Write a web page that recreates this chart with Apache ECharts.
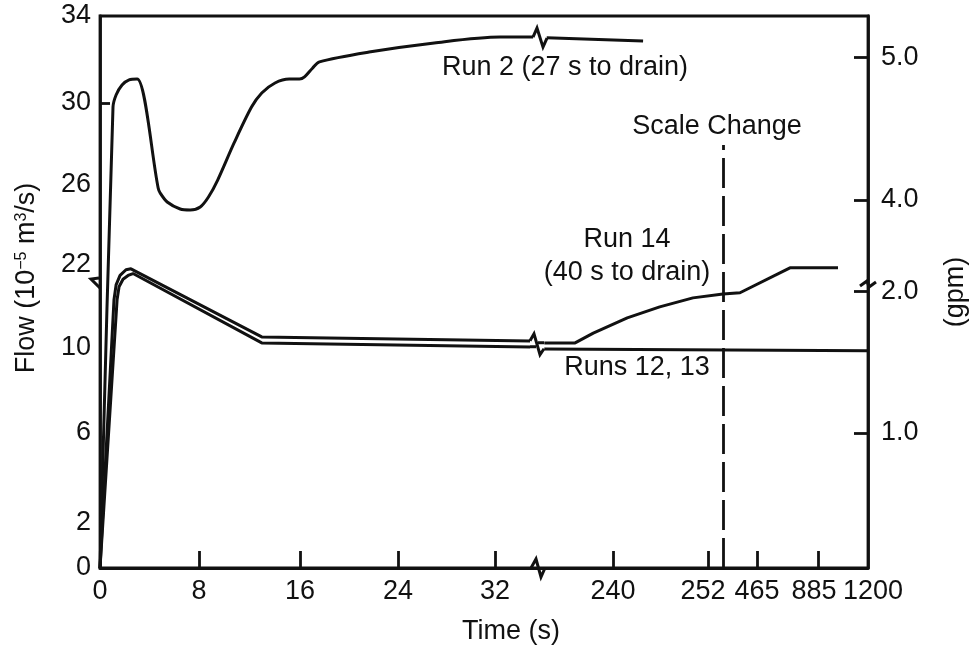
<!DOCTYPE html>
<html>
<head>
<meta charset="utf-8">
<title>Flow vs time</title>
<script src="https://cdn.jsdelivr.net/npm/echarts@6/dist/echarts.min.js"></script>
<style>
html, body { margin: 0; padding: 0; background: #fff; }
#chart { width: 970px; height: 650px; }
</style>
</head>
<body>
<div id="chart"></div>
<script>
// broken time axis: seconds -> distance along the plot (break 35.5 s / 230.5 s, scale change at 254 s)
const timeScaleReal = [0, 8, 16, 24, 32, 35.5, 230.5, 240, 252, 254, 465, 885, 1200];
const timeScalePos  = [0, 99, 200, 298, 395, 438, 438, 513, 608, 623, 657, 718, 768];
// broken flow axis (10^-5 m3/s), break between 13 and 21
const flowScaleReal = [0, 2, 6, 10, 13, 21, 22, 26, 30, 34];
const flowScalePos  = [0, 45, 135, 220, 284, 284, 303, 383, 465, 552];

// tick labels
const timeTicks = [0, 8, 16, 24, 32, 240, 252, 465, 885, 1200];
const timeTickMarks = [8, 16, 24, 32, 240, 252, 465, 885];
const flowTicks = [0, 2, 6, 10, 22, 26, 30, 34];
const gpmTicks = ['1.0', '2.0', '4.0', '5.0'];
const gpmTickFlow = [6.0, 12.64, 25.25, 32.1];

// curves (null = gap at the axis break)
const run2Time = [0, 1.05, 1.3, 1.78, 2.35, 3.0, 4.7, 4.86, 5.43, 6.48, 7.29, 8.1, 8.75, 9.48, 10.78, 12.16, 12.97, 14.02, 15.15, 15.96, 16.37, 17.02, 17.59, 21.64, 26.99, 32.41, 35.1, 35.5, 231.6, 243.8];
const run2Flow = [0, 29.8, 30.37, 30.83, 31.06, 31.1, 25.85, 25.6, 25.15, 24.8, 24.75, 24.9, 25.4, 26.24, 28.05, 29.8, 30.46, 30.92, 31.1, 31.1, 31.2, 31.6, 31.89, 32.34, 32.76, 33.03, 33.03, null, 33.0, 32.85];

const run14Time = [0, 1.13, 1.3, 1.62, 2.1, 2.5, 12.97, 34.85, 35.5, 231.3, 235.2, 237.5, 241.8, 245.9, 250.1, 254, 359.5, 692, 1011];
const run14Flow = [0, 12.26, 12.96, 21.45, 21.75, 21.8, 10.52, 10.33, null, 10.24, 10.24, 10.7, 11.41, 11.93, 12.35, 12.53, 12.59, 21.85, 21.85];

const runs1213Time = [0, 1.38, 1.54, 1.86, 2.27, 2.67, 12.97, 34.85, 35.5, 231.3, 1200];
const runs1213Flow = [0, 12.26, 12.87, 21.25, 21.45, 21.55, 10.24, 10.05, null, 9.95, 9.87];

const scaleChangeTime = 254;
const scaleChangeTop = 27.95;

function interp(v, xs, ys) {
    if (v <= xs[0]) return ys[0];
    for (let i = 0; i < xs.length - 1; i++) {
        if (v <= xs[i + 1]) {
            const span = xs[i + 1] - xs[i];
            return span === 0 ? ys[i + 1] : ys[i] + (ys[i + 1] - ys[i]) * (v - xs[i]) / span;
        }
    }
    return ys[ys.length - 1];
}
const toX = t => interp(t, timeScaleReal, timeScalePos);
const toY = f => interp(f, flowScaleReal, flowScalePos);
const toPoint = (t, f) => [toX(t), f == null ? '-' : toY(f)];
const pairs = (ts, fs) => ts.map((t, i) => toPoint(t, fs[i]));

const FONT = "'Liberation Sans', Arial, sans-serif";
const FS = 27;

// small nudges of crowded time labels (px, + = right)
const timeLabelNudge = { 252: -5, 885: -4, 1200: 5 };

function labelFor(ticks, mapFn, texts, nudge) {
    return function (val) {
        for (let i = 0; i < ticks.length; i++) {
            if (Math.abs(mapFn(ticks[i]) - val) < 0.01) {
                const txt = texts ? texts[i] : String(ticks[i]);
                const n = nudge && nudge[ticks[i]];
                if (n > 0) return '{r' + n + '|' + txt + '}';
                if (n < 0) return '{l' + (-n) + '|' + txt + '}';
                return txt;
            }
        }
        return '';
    };
}
const nudgeRich = {};
Object.keys(timeLabelNudge).forEach(k => {
    const n = timeLabelNudge[k];
    const base = { fontFamily: FONT, fontSize: FS, color: '#111' };
    if (n > 0) nudgeRich['r' + n] = Object.assign({ padding: [0, 0, 0, 2 * n] }, base);
    else nudgeRich['l' + (-n)] = Object.assign({ padding: [0, -2 * n, 0, 0] }, base);
});

// break marks: [time, flow, shape index]
const breakMarks = [
    [35.5, 0, 0],
    [0, 13, 1],
    [1200, 13, 2],
    [35.5, 33.03, 3],
    [35.5, 10.2, 4]
];
const breakShapes = [
    [[[-7, 0], [-2, -9], [3, 9], [7, 0]]],
    [[[-1, -6], [-9, -5], [0, 4]]],
    [[[-8, 2], [-1, -3], [1, 3], [8, -2]]],
    [[[-5, 0], [-1, -9], [5, 10], [9, 1]]],
    [[[-8, -3], [-4, -10], [2, 11], [6, 5]], [[-8, 3], [-2, 3]], [[0, -1], [6, -1]]]
];

const lineStyle = { color: '#111', width: 3 };

const chart = echarts.init(document.getElementById('chart'));
const textStyle = { fontFamily: FONT, fontSize: FS, fill: '#111', align: 'center', verticalAlign: 'middle' };

chart.setOption({
    animation: false,
    backgroundColor: '#fff',
    grid: {
        left: 100, top: 16, width: 768, height: 552,
        containLabel: false, outerBoundsMode: 'none',
        show: true, borderColor: '#111', borderWidth: 2.8
    },
    xAxis: {
        type: 'value', min: 0, max: 768,
        axisLine: { lineStyle: { color: '#111', width: 2.8 } },
        splitLine: { show: false },
        axisTick: {
            customValues: timeTickMarks.map(toX),
            inside: true, length: 17,
            lineStyle: { color: '#111', width: 2.8 }
        },
        axisLabel: {
            customValues: timeTicks.map(toX),
            formatter: labelFor(timeTicks, toX, null, timeLabelNudge),
            rich: nudgeRich,
            color: '#111', fontFamily: FONT, fontSize: FS, margin: 10
        }
    },
    yAxis: [{
        type: 'value', min: 0, max: 552, position: 'left',
        axisLine: { show: true, lineStyle: { color: '#111', width: 2.8 } },
        splitLine: { show: false },
        axisTick: {
            customValues: [toY(30)],
            inside: true, length: 10,
            lineStyle: { color: '#111', width: 2.8 }
        },
        axisLabel: {
            customValues: flowTicks.map(toY),
            formatter: labelFor(flowTicks, toY),
            color: '#111', fontFamily: FONT, fontSize: FS, margin: 9
        }
    }, {
        type: 'value', min: 0, max: 552, position: 'right',
        axisLine: { show: true, lineStyle: { color: '#111', width: 2.8 } },
        splitLine: { show: false },
        axisTick: {
            customValues: gpmTickFlow.map(toY),
            inside: true, length: 14,
            lineStyle: { color: '#111', width: 2.8 }
        },
        axisLabel: {
            customValues: gpmTickFlow.map(toY),
            formatter: labelFor(gpmTickFlow, toY, gpmTicks),
            color: '#111', fontFamily: FONT, fontSize: FS, margin: 13
        }
    }],
    series: [{
        name: 'Run 2', type: 'line', symbol: 'none',
        smooth: 0.3, connectNulls: false,
        lineStyle: lineStyle,
        data: pairs(run2Time, run2Flow)
    }, {
        name: 'Run 14', type: 'line', symbol: 'none', connectNulls: false,
        lineStyle: lineStyle,
        data: pairs(run14Time, run14Flow)
    }, {
        name: 'Runs 12, 13', type: 'line', symbol: 'none', connectNulls: false,
        lineStyle: lineStyle,
        data: pairs(runs1213Time, runs1213Flow),
        markLine: {
            silent: true, symbol: ['none', 'none'],
            label: { show: false },
            lineStyle: { color: '#111', width: 2.8, type: [30, 8] },
            data: [[{ coord: toPoint(scaleChangeTime, 0) }, { coord: toPoint(scaleChangeTime, scaleChangeTop) }]]
        }
    }, {
        type: 'custom', coordinateSystem: 'cartesian2d', clip: false, z: 5,
        encode: { x: 0, y: 1 },
        data: breakMarks.map(m => [toX(m[0]), toY(m[1]), m[2]]),
        renderItem: function (params, api) {
            const c = api.coord([api.value(0), api.value(1)]);
            const shape = breakShapes[api.value(2)];
            return {
                type: 'group',
                children: shape.map(pts => ({
                    type: 'polyline',
                    shape: { points: pts.map(p => [c[0] + p[0], c[1] + p[1]]) },
                    style: { stroke: '#111', lineWidth: 3, fill: null }
                }))
            };
        }
    }],
    graphic: [
        { type: 'text', x: 565, y: 68, style: Object.assign({ text: 'Run 2 (27 s to drain)' }, textStyle) },
        { type: 'text', x: 717, y: 127, style: Object.assign({ text: 'Scale Change' }, textStyle) },
        { type: 'text', x: 627, y: 240, style: Object.assign({ text: 'Run 14' }, textStyle) },
        { type: 'text', x: 627, y: 273, style: Object.assign({ text: '(40 s to drain)' }, textStyle) },
        { type: 'text', x: 637, y: 368, style: Object.assign({ text: 'Runs 12, 13' }, textStyle) },
        { type: 'text', x: 511, y: 632, style: Object.assign({ text: 'Time (s)' }, textStyle) },
        { type: 'text', x: 956, y: 292, rotation: Math.PI / 2, style: Object.assign({ text: '(gpm)' }, textStyle) },
        {
            type: 'text', x: 27, y: 278, rotation: Math.PI / 2,
            style: Object.assign({}, textStyle, {
                text: '{a|Flow (10}{s|−5}{a| m}{s|3}{a|/s)}',
                rich: {
                    a: { fontFamily: FONT, fontSize: FS, fill: '#111', color: '#111' },
                    s: { fontFamily: FONT, fontSize: 16, fill: '#111', color: '#111', verticalAlign: 'top' }
                }
            })
        }
    ]
});
</script>
</body>
</html>
